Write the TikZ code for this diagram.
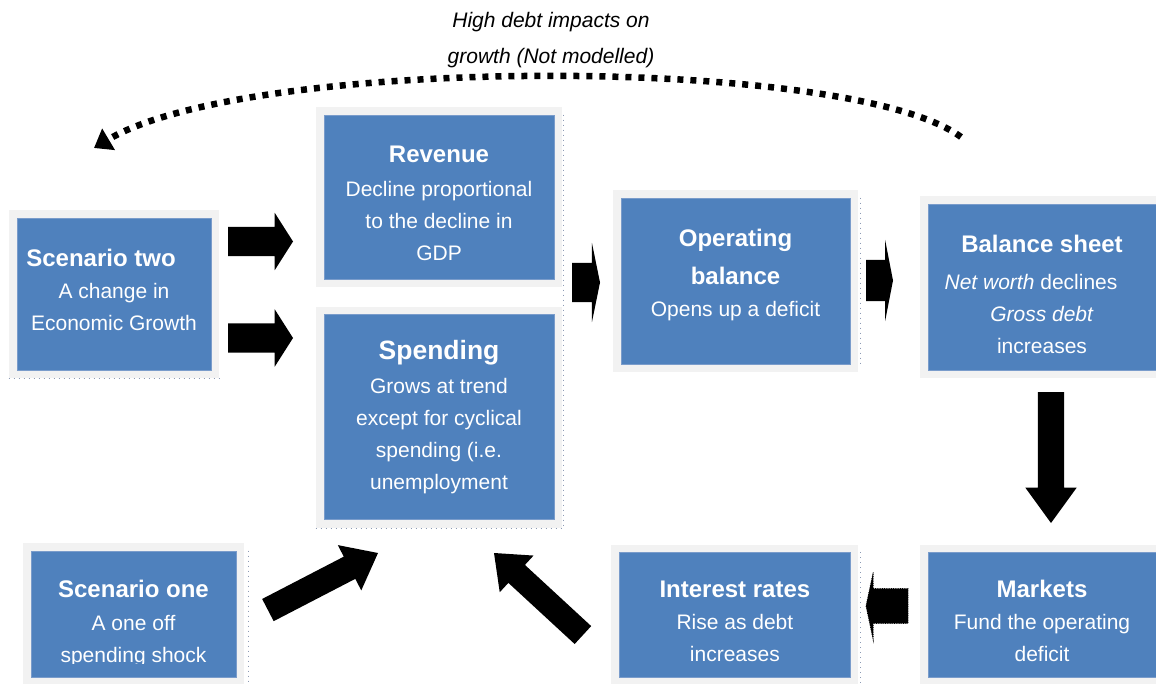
\documentclass[tikz,border=0pt]{standalone}
\usepackage{fontspec}
\setmainfont{Liberation Sans}
\usepackage{tikz}
\usetikzlibrary{arrows.meta}
\usetikzlibrary{positioning}
\usetikzlibrary{shapes.arrows}

\definecolor{cardblue}{HTML}{4F81BD}
\definecolor{cardedge}{HTML}{7A9CCB}
\definecolor{framegray}{HTML}{F2F2F2}
\definecolor{dotgray}{HTML}{8C9AB4}

\newcommand{\boxtitle}[1]{{\bfseries\fontsize{24}{32}\selectfont #1}}

\tikzset{
  card/.style={rectangle, fill=cardblue, draw=cardedge, line width=0.6pt,
    preaction={draw=framegray, line width=16pt}, inner sep=0pt},
  cardtext/.style={text=white, align=center, inner sep=0pt,
    font=\fontsize{21}{32}\selectfont},
  blockarrow/.style={single arrow, fill=black, inner xsep=0pt, outer sep=0pt, anchor=tip},
  edgedots/.style={draw=dotgray, line width=0.8pt, dash pattern=on 1pt off 4pt},
  debtarc/.style={line width=6.5pt, dash pattern=on 6pt off 7pt,
    -{Triangle[length=17pt,width=24pt]}},
}

\begin{document}
\begin{tikzpicture}[x=1pt, y=-1pt]

    \fill[white] (0,0) rectangle (1156,684);
    \useasboundingbox (0,0) rectangle (1156,684);

    % Boxes
    \node[card, minimum width=194pt, minimum height=152pt] (scentwo) at (114,294) {};
    \node[card, minimum width=230pt, minimum height=164pt] (rev) at (439,197) {};
    \node[card, minimum width=230pt, minimum height=205pt, below=35pt of rev] (spend) {};
    \node[card, minimum width=229pt, minimum height=166pt] (op) at (735.5,281) {};
    \node[card, minimum width=228pt, minimum height=166pt] (bs) at (1042,287) {};

    % Bottom row
    \node[card, minimum width=228pt, minimum height=125pt, below=182pt of bs] (mk) {};
    \node[card, minimum width=231pt, minimum height=125pt, left=77pt of mk] (ir) {};
    \node[card, minimum width=205pt, minimum height=126pt] (scenone) at (133.5,614) {};

    % Faint dotted edges
    \draw[edgedots] ([xshift=9pt]rev.north east) -- ([xshift=9pt,yshift=-8pt]spend.south east);
    \draw[edgedots] ([xshift=-8pt,yshift=-8pt]spend.south west) -- ([xshift=8pt,yshift=-8pt]spend.south east);
    \draw[edgedots] ([xshift=-8pt,yshift=-8pt]scentwo.south west) -- ([xshift=8pt,yshift=-8pt]scentwo.south east);
    \draw[edgedots] ([xshift=10pt]op.north east) -- ([xshift=10pt]op.south east);
    \draw[edgedots] ([xshift=10pt]ir.north east) -- ([xshift=10pt,yshift=-8pt]ir.south east);
    \draw[edgedots] ([xshift=12pt]scenone.north east) -- ([xshift=12pt,yshift=-8pt]scenone.south east);

    % Box texts
    \node[cardtext] (scentwotext) at ([yshift=4.5pt]scentwo.center)
        {\boxtitle{Scenario two}\rule{26pt}{0pt}\\ A change in\\ Economic Growth};
    \node[cardtext] (revtext) at ([yshift=-6pt]rev.center)
        {\boxtitle{Revenue}\\[2pt] Decline proportional\\ to the decline in\\ GDP};
    \node[cardtext] (spendtext) at (spend.center)
        {{\bfseries\fontsize{26.5}{32}\selectfont Spending}\\[2pt] Grows at trend\\
         except for cyclical\\ spending (i.e.\\ unemployment};
    \node[cardtext] (optext) at ([yshift=6.5pt]op.center)
        {\boxtitle{Operating}\\[6pt] \boxtitle{balance}\\ Opens up a deficit};
    \node[cardtext] (bstext) at ([yshift=-7.5pt]bs.center)
        {\boxtitle{Balance sheet}\\[5pt] \textit{Net worth} declines\rule{22pt}{0pt}\\
         \textit{Gross debt}\\ increases};
    \node[cardtext] (mktext) at ([yshift=-6pt]mk.center)
        {\boxtitle{Markets}\\ Fund the operating\\ deficit};
    \node[cardtext] (irtext) at ([yshift=-6pt]ir.center)
        {\boxtitle{Interest rates}\\ Rise as debt\\ increases};
    \begin{scope}
        % text runs past the box and is cut off
        \clip (scenone.north west) rectangle ([yshift=14pt]scenone.south east);
        \node[cardtext] (scenonetext) at ([yshift=-9pt]scenone.center)
            {\boxtitle{Scenario one}\\[1pt] A one off\\ spending shock};
    \end{scope}

    % Block arrows (placed by their tips)
    \node[blockarrow, inner ysep=14.5pt, minimum height=65pt, minimum width=57pt,
          single arrow head extend=14pt, single arrow tip angle=115] (twotorev) at (293,241.5) {};
    \node[blockarrow, inner ysep=14.5pt, minimum height=65pt, minimum width=57pt,
          single arrow head extend=14pt, single arrow tip angle=115] (twotospend) at (293,338) {};
    \node[blockarrow, inner ysep=19.5pt, minimum height=28pt, minimum width=79pt,
          single arrow head extend=20pt, single arrow tip angle=157] (revtoop) at (600,282.5) {};
    \node[blockarrow, inner ysep=20.5pt, minimum height=27pt, minimum width=81pt,
          single arrow head extend=20pt, single arrow tip angle=158] (optobs) at (893,280.5) {};
    \node[blockarrow, inner ysep=13pt, minimum height=131pt, minimum width=51pt,
          single arrow head extend=12.5pt, single arrow tip angle=72, rotate=-90] (bstomk) at (1051,523) {};
    \node[blockarrow, draw=black, densely dotted, line width=0.8pt, inner ysep=17pt,
          minimum height=42pt, minimum width=67pt, single arrow head extend=16.5pt,
          single arrow tip angle=156, rotate=180] (mktoir) at (866,606) {};
    \node[blockarrow, inner ysep=12.3pt, minimum height=124pt, minimum width=51pt,
          single arrow head extend=13pt, single arrow tip angle=77, rotate=27.4] (onetospend) at (378,553) {};
    \node[blockarrow, inner ysep=12pt, minimum height=121pt, minimum width=49.5pt,
          single arrow head extend=12.75pt, single arrow tip angle=78, rotate=137.3] (irtospend) at (494,553) {};

    % Feedback arc
    \node[align=center, font=\fontsize{21}{36}\selectfont\itshape] (note) at (551,40)
        {High debt impacts on\\ growth (Not modelled)};
    \coordinate (arcstart) at (961,137);
    \coordinate (arcend) at (94,148);
    \draw[debtarc] (arcstart) .. controls (850,55) and (250,55) .. (arcend);

\end{tikzpicture}
\end{document}
